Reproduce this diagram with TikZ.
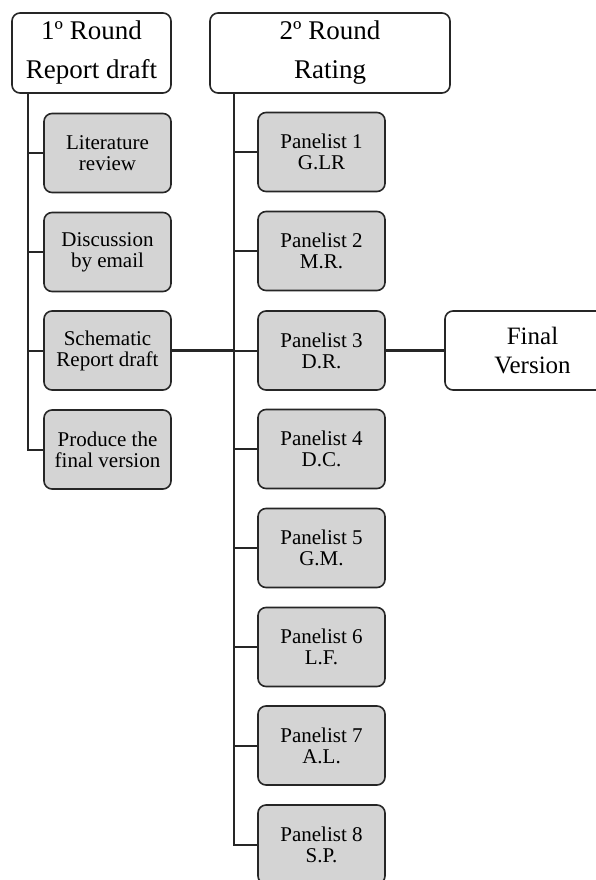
\documentclass[tikz,border=0pt]{standalone}
\usepackage{fontspec}
\setmainfont{Liberation Serif}

\begin{document}
\begin{tikzpicture}[x=1pt,y=-1pt,
    every node/.style={draw=black!85,line width=1.6pt,rounded corners=8pt,align=center,inner sep=0pt},
    header/.style={fill=white,minimum height=80pt,font=\fontsize{27}{39}\selectfont},
    task/.style={fill=black!17,minimum width=127pt,minimum height=79pt,font=\fontsize{21}{21}\selectfont},
    final/.style={fill=white,minimum width=175pt,minimum height=79pt,font=\fontsize{25}{29}\selectfont},
    link/.style={draw=black!85,line width=2pt},
    thicklink/.style={draw=black!85,line width=2.8pt}]
                \useasboundingbox (0,0) rectangle (596,880);
                \clip (0,0) rectangle (596,880);

                \node[header,minimum width=159pt] (r1) at (91.5,53) {1º Round\\Report draft};
                \node[header,minimum width=240pt] (r2) at (330,53) {2º Round\\Rating};

                \node[task] (lit) at (107.5,153) {Literature\\review};
                \node[task] (mail) at (107.5,252) {Discussion\\by email};
                \node[task] (draft) at (107.5,350.5) {Schematic\\Report draft};
                \node[task] (prod) at (107.5,449.5) {Produce the\\final version};

                \node[task] (p1) at (321.5,152) {Panelist 1\\G.LR};
                \node[task] (p2) at (321.5,251) {Panelist 2\\M.R.};
                \node[task] (p3) at (321.5,350.5) {Panelist 3\\D.R.};
                \node[task] (p4) at (321.5,449) {Panelist 4\\D.C.};
                \node[task] (p5) at (321.5,548) {Panelist 5\\G.M.};
                \node[task] (p6) at (321.5,647) {Panelist 6\\L.F.};
                \node[task] (p7) at (321.5,745.5) {Panelist 7\\A.L.};
                \node[task] (p8) at (321.5,844.5) {Panelist 8\\S.P.};

                \node[final] (fin) at (532.5,350.5) {Final\\Version};

                \coordinate (t1) at (28,93);
                \coordinate (t2) at (234,93);

                \foreach \n in {lit,mail,draft,prod} {
                    \path [link] (t1) |- (\n.west);
                }
                \foreach \n in {p1,p2,p3,p4,p5,p6,p7,p8} {
                    \path [link] (t2) |- (\n.west);
                }

                \path [thicklink] (draft.east) -- (draft.east -| t2);
                \path [thicklink] (p3.east) -- (fin.west);
            \end{tikzpicture}
\end{document}
